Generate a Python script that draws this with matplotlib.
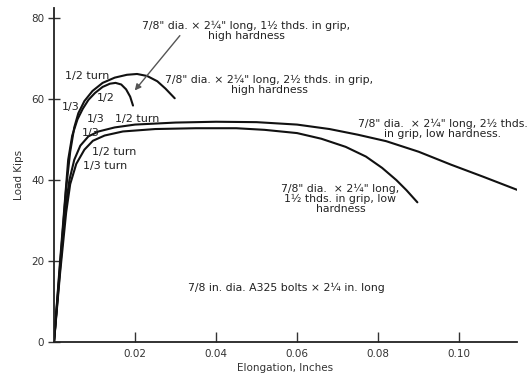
import matplotlib
matplotlib.use('Agg')
import matplotlib.pyplot as plt

plt.rcParams['font.family'] = ['DejaVu Sans']

# curves: elongation (in) vs load (kips)
hi15_x = [0, 0.0015, 0.0027, 0.0035, 0.0045, 0.0058, 0.0071, 0.0085, 0.0101, 0.012, 0.0138, 0.0152, 0.0166, 0.0178, 0.0188, 0.0195]
hi15_y = [0, 20, 35, 45, 51, 55, 57.6, 59.8, 61.5, 63, 63.8, 64, 63.6, 62.4, 60.6, 58.4]

hi25_x = [0, 0.0015, 0.003, 0.004, 0.005, 0.006, 0.0075, 0.0095, 0.012, 0.015, 0.018, 0.0205, 0.023, 0.0255, 0.0275, 0.0298]
hi25_y = [0, 19, 38, 47, 53, 56.5, 59.5, 62, 64, 65.3, 66, 66.2, 65.7, 64.4, 62.6, 60.2]

lo25_x = [0, 0.0015, 0.0028, 0.0038, 0.005, 0.0065, 0.0085, 0.011, 0.015, 0.02, 0.03, 0.04, 0.05, 0.06, 0.068, 0.075, 0.082, 0.09, 0.098, 0.106, 0.1148]
lo25_y = [0, 18, 33, 40, 45, 48.5, 50.8, 52, 53, 53.7, 54.2, 54.4, 54.3, 53.7, 52.6, 51.2, 49.6, 47, 43.8, 40.8, 37.4]

lo15_x = [0, 0.0015, 0.003, 0.004, 0.0055, 0.0075, 0.0096, 0.0125, 0.017, 0.025, 0.035, 0.045, 0.052, 0.06, 0.066, 0.072, 0.077, 0.081, 0.0845, 0.087, 0.0897]
lo15_y = [0, 17, 32, 39, 44, 47.5, 49.7, 51, 52, 52.6, 52.8, 52.8, 52.4, 51.6, 50.2, 48.2, 45.8, 43, 40, 37.5, 34.5]

xticks = [0.02, 0.04, 0.06, 0.08, 0.10]
xtick_labels = ['0.02', '0.04', '0.06', '0.08', '0.10']
yticks = [0, 20, 40, 60, 80]

# turn labels: (text, x, y)
turn_labels = [
    ('1/2 turn', 0.0027, 65.8),
    ('1/3', 0.0019, 58.0),
    ('1/2', 0.0106, 60.3),
    ('1/3', 0.0081, 55.0),
    ('1/3', 0.0069, 51.7),
    ('1/2 turn', 0.0150, 55.2),
    ('1/2 turn', 0.0093, 47.0),
    ('1/3 turn', 0.0072, 43.4),
]

fig = plt.figure(figsize=(5.31, 3.80), dpi=100)
ax = fig.add_axes([0.1017, 0.1, 0.872, 0.879])

for xs, ys in [(hi15_x, hi15_y), (hi25_x, hi25_y), (lo25_x, lo25_y), (lo15_x, lo15_y)]:
    ax.plot(xs, ys, color='#111111', lw=1.5, solid_capstyle='round')

ax.set_xlim(0, 0.1143)
ax.set_ylim(0, 82.5)
ax.set_xticks(xticks)
ax.set_xticklabels(xtick_labels)
ax.set_yticks(yticks)
ax.spines['top'].set_visible(False)
ax.spines['right'].set_visible(False)
for s in ['left', 'bottom']:
    ax.spines[s].set_linewidth(1.3)
    ax.spines[s].set_color('#222222')
ax.tick_params(axis='x', direction='in', length=7, width=1, labelsize=7.5, colors='#333333', pad=5)
ax.tick_params(axis='y', direction='inout', length=8, width=1, labelsize=7.5, colors='#333333', pad=3)

ax.set_xlabel('Elongation, Inches', fontsize=7.5, color='#333333', labelpad=3)
ax.set_ylabel('Load Kips', fontsize=7.5, color='#333333', labelpad=5)

tc = '#222222'
fs = 7.8
for t, x, y in turn_labels:
    ax.text(x, y, t, fontsize=8, color=tc, ha='left', va='center')

ax.text(0.0475, 76.9, '7/8" dia. \u00d7 2\u00bc" long, 1\u00bd thds. in grip,\nhigh hardness',
        fontsize=fs, color=tc, ha='center', va='center', linespacing=1.0)
ax.text(0.0532, 63.5, '7/8" dia. \u00d7 2\u00bc" long, 2\u00bd thds. in grip,\nhigh hardness',
        fontsize=fs, color=tc, ha='center', va='center', linespacing=1.0)
ax.text(0.096, 52.6, '7/8" dia.  \u00d7 2\u00bc" long, 2\u00bd thds.\nin grip, low hardness.',
        fontsize=fs, color=tc, ha='center', va='center', linespacing=1.0)
ax.text(0.0707, 35.4, '7/8" dia.  \u00d7 2\u00bc" long,\n1\u00bd thds. in grip, low\nhardness',
        fontsize=fs, color=tc, ha='center', va='center', linespacing=1.0)
ax.text(0.0574, 13.3, '7/8 in. dia. A325 bolts \u00d7 2\u00bc in. long',
        fontsize=fs, color=tc, ha='center', va='center')

ax.annotate('', xy=(0.0195, 61.6), xytext=(0.0315, 76.2),
            arrowprops=dict(arrowstyle='-|>', color='#555555', lw=1.0, mutation_scale=9))

fig.savefig('out.png', dpi=100)
